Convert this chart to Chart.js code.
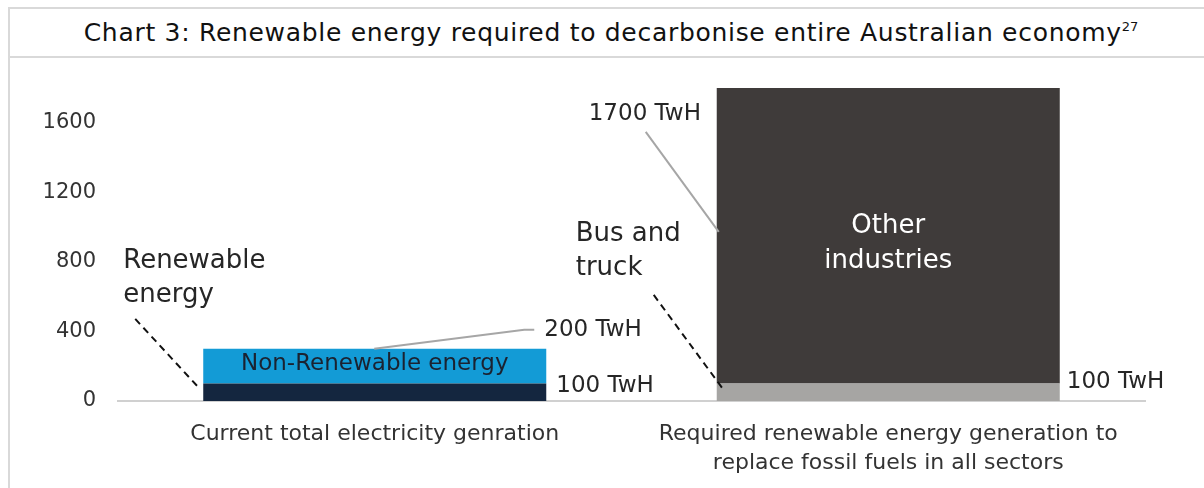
<!DOCTYPE html>
<html>
<head>
<meta charset="utf-8">
<script src="https://cdn.jsdelivr.net/npm/chart.js@4"></script>
<style>
  html, body { margin: 0; padding: 0; background: #fff; width: 1204px; height: 488px; overflow: hidden; }
  #frame { position: absolute; left: 8px; top: 7px; right: 0; bottom: 0; border-left: 2px solid #d9d9d9; border-top: 2px solid #d9d9d9; }
  #title { height: 47px; border-bottom: 2px solid #d9d9d9; font-family: "DejaVu Sans", sans-serif; font-size: 25px; color: #111;
           text-align: center; line-height: 47px; letter-spacing: 0.7px; padding-left: 8px; white-space: nowrap; }
  #title sup { font-size: 13px; vertical-align: 10px; line-height: 0; letter-spacing: 0; }
  #wrap { position: absolute; left: 0; top: 49px; width: 1194px; height: 430px; }
</style>
</head>
<body>
<div id="frame">
  <div id="title">Chart 3: Renewable energy required to decarbonise entire Australian economy<sup>27</sup></div>
  <div id="wrap"><canvas id="c"></canvas></div>
</div>
<script>
// values in TWh
const categories = [
  ['Current total electricity genration'],
  ['Required renewable energy generation to', 'replace fossil fuels in all sectors'],
];
const renewable     = [100, null];
const nonRenewable  = [200, null];
const busAndTruck   = [null, 100];
const otherIndustry = [null, 1700];
const yTicks = [0, 400, 800, 1200, 1600];

const FONT = '"DejaVu Sans", sans-serif';
const INK = '#262626';

// text + leader lines, anchored to the bar elements and the y scale
const notes = {
  id: 'notes',
  afterDatasetsDraw(chart) {
    const ctx = chart.ctx, y = chart.scales.y;
    const b0 = chart.getDatasetMeta(1).data[0];   // left stack (top segment)
    const b1 = chart.getDatasetMeta(3).data[1];   // right stack (top segment)
    const l0 = b0.x - b0.width / 2, r0 = b0.x + b0.width / 2;
    const l1 = b1.x - b1.width / 2, r1 = b1.x + b1.width / 2;

    function text(str, x, v, opts) {
      opts = opts || {};
      ctx.save();
      ctx.font = (opts.size || 24) + 'px ' + FONT;
      ctx.fillStyle = opts.color || INK;
      ctx.textAlign = opts.align || 'left';
      ctx.textBaseline = 'middle';
      ctx.fillText(str, x, y.getPixelForValue(v));
      ctx.restore();
    }
    function line(pts, color, dash) {
      ctx.save();
      ctx.strokeStyle = color; ctx.lineWidth = 2;
      ctx.setLineDash(dash || []);
      ctx.beginPath();
      pts.forEach((p, i) => {
        const py = y.getPixelForValue(p[1]);
        if (i) ctx.lineTo(p[0], py); else ctx.moveTo(p[0], py);
      });
      ctx.stroke();
      ctx.restore();
    }

    // left bar
    text('Renewable', l0 - 80, 806, { size: 26 });
    text('energy', l0 - 80, 606, { size: 26 });
    line([[l0 - 68, 472], [l0 - 6, 86]], '#111', [7, 5]);
    text('Non-Renewable energy', b0.x, 214, { size: 23, align: 'center', color: '#1b2230' });
    line([[l0 + 171, 300], [r0 - 22, 410], [r0 - 12, 410]], '#a6a6a6');
    text('200 TwH', r0 - 2, 410, { size: 23 });
    text('100 TwH', r0 + 10, 86, { size: 23 });

    // right bar
    text('1700 TwH', l1 - 128, 1652, { size: 23 });
    line([[l1 - 71, 1548], [l1 + 2, 973]], '#a6a6a6');
    text('Bus and', l1 - 141, 961, { size: 26 });
    text('truck', l1 - 141, 765, { size: 26 });
    line([[l1 - 63, 610], [l1 + 7, 63]], '#111', [7, 5]);
    text('Other', b1.x, 1007, { size: 26, align: 'center', color: '#fff' });
    text('industries', b1.x, 806, { size: 26, align: 'center', color: '#fff' });
    text('100 TwH', r1 + 7, 109, { size: 23 });
  }
};

new Chart(document.getElementById('c'), {
  type: 'bar',
  data: {
    labels: categories,
    datasets: [
      { label: 'Renewable energy', data: renewable, backgroundColor: '#14263f' },
      { label: 'Non-Renewable energy', data: nonRenewable, backgroundColor: '#139bd6' },
      { label: 'Bus and truck', data: busAndTruck, backgroundColor: '#a6a5a3' },
      { label: 'Other industries', data: otherIndustry, backgroundColor: '#3f3b3a' },
    ],
  },
  options: {
    responsive: true, maintainAspectRatio: false, animation: false,
    devicePixelRatio: 1,
    layout: { padding: { top: 30, right: 59, left: 0, bottom: 0 } },
    datasets: { bar: { barPercentage: 0.668, categoryPercentage: 1, borderWidth: 0, borderSkipped: false } },
    plugins: { legend: { display: false }, tooltip: { enabled: false } },
    scales: {
      x: {
        stacked: true,
        grid: { display: false, drawTicks: false },
        border: { display: true, color: '#d0d0d0', width: 2 },
        ticks: { color: '#333', font: { family: FONT, size: 22, lineHeight: 1.3 }, padding: 19, maxRotation: 0, autoSkip: false },
        afterFit(s) { s.height = 87; },
      },
      y: {
        stacked: true, min: 0, max: 1800,
        grid: { display: false, drawTicks: false },
        border: { display: false },
        ticks: { color: '#333', font: { family: FONT, size: 21 }, padding: 22, stepSize: 400, callback: v => String(v) },
        afterBuildTicks(s) { s.ticks = yTicks.map(v => ({ value: v })); },
        // fixed gutter; drop the label-derived top padding so layout.padding sets the plot top
        afterFit(s) { s.width = 108; s.paddingTop = 0; },
      },
    },
  },
  plugins: [notes],
});
</script>
</body>
</html>
